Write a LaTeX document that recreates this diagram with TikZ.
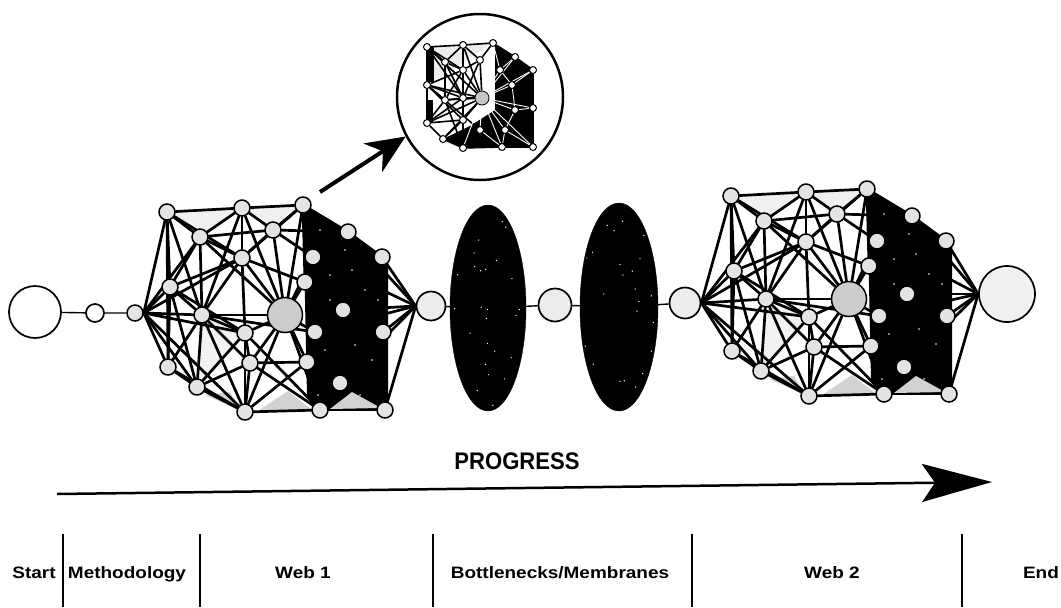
\documentclass[tikz,border=0pt]{standalone}
\usepackage{fontspec}
\setmainfont{Liberation Sans}
\newfontfamily\labfont[FakeStretch=1.15]{Liberation Sans}
\newfontfamily\progfont[FakeStretch=0.92]{Liberation Sans}
\usetikzlibrary{arrows.meta,shapes.geometric,calc}
\pgfdeclarelayer{lzero}
\pgfdeclarelayer{lone}
\pgfdeclarelayer{ltwo}
\pgfsetlayers{lzero,lone,ltwo,main}
\tikzset{
 wn/.style={circle,draw,line width=1.5pt,fill=gray!22,minimum size=16pt,inner sep=0pt},
 bign/.style={circle,draw,line width=1.5pt,fill=gray!40,minimum size=35pt,inner sep=0pt},
 chainc/.style={circle,draw,line width=1.7pt,fill=gray!15,inner sep=0pt},
 webedge/.style={line width=2.7pt,line cap=round},
 patch/.style={fill=gray!35},
 chainline/.style={line width=1.4pt},
 blob/.style={ellipse,fill=black,draw,inner sep=0pt,minimum width=76pt,minimum height=206pt},
 inn/.style={circle,draw,line width=1pt,fill=white,minimum size=7pt,inner sep=0pt},
 inedge/.style={line width=1.6pt},
 inwhite/.style={line width=0.9pt,white},
 lab/.style={font=\labfont\fontsize{16.5}{16.5}\selectfont\bfseries,inner sep=0pt,anchor=base},
 divider/.style={line width=1.3pt},
}
\newcommand\drawweb[4]{%
\begin{scope}[shift={#2}]
 \node[wn] (#1A1) at (167,212) {};
 \node[wn] (#1A2) at (242,208) {};
 \node[wn] (#1A3) at (303,205) {};
 \node[wn] (#1A4) at (348,232) {};
 \node[wn] (#1A5) at (382,257) {};
 \node[wn] (#1B1) at (200,237) {};
 \node[wn] (#1B2) at (273,230) {};
 \node[wn] (#1B3) at (242,258) {};
 \node[wn] (#1C1) at (170,287) {};
 \node[wn] (#1C2) at (202,315) {};
 \node[bign] (#1CC) at (285,315) {};
 \node[wn] (#1C3) at (245,333) {};
 \node[wn] (#1D1) at (168,367) {};
 \node[wn] (#1D2) at (197,387) {};
 \node[wn] (#1D3) at (250,363) {};
 \node[wn] (#1E1) at (245,412) {};
 \node[wn] (#1E2) at (320,410) {};
 \node[wn] (#1E3) at (385,410) {};
 \node[wn] (#1F1) at (313,257) {};
 \node[wn] (#1F2) at (305,282) {};
 \node[wn] (#1F3) at (343,310) {};
 \node[wn] (#1F4) at (315,332) {};
 \node[wn] (#1F5) at (383,332) {};
 \node[wn] (#1F6) at (307,362) {};
 \node[wn] (#1F7) at (340,383) {};
 \begin{pgfonlayer}{lzero}
  \fill[gray!12] (#1A1.center) -- (#1A2.center) -- (#1B1.center) -- cycle;
  \fill[gray!12] (#1A2.center) -- (#1A3.center) -- (#1B2.center) -- cycle;
  \fill[gray!10] (#1C2.center) -- (#1C3.center) -- (#1D2.center) -- cycle;
  \fill[patch] (258,411) -- (288,391) -- (312,410) -- cycle;
  \fill[patch] (205,395) -- (230,392) -- (240,410) -- cycle;
 \end{pgfonlayer}
 \begin{pgfonlayer}{lone}
  \foreach \a/\b in {A1/A2,A2/A3,A3/A4,A4/A5,
   A1/B1,A1/C1,A1/C2,A1/B3,A1/D1,
   A2/B1,A2/B2,A2/B3,A2/C2,A2/CC,
   A3/B2,A3/B3,A3/CC,A3/F1,A3/F2,
   B1/B2,B1/C1,B1/C2,B1/B3,B1/CC,
   B2/B3,B2/A4,B2/CC,B2/F1,
   B3/C1,B3/C2,B3/CC,B3/F2,B3/C3,
   C1/C2,C1/D1,C1/D2,C1/C3,
   C2/CC,C2/C3,C2/D1,C2/D2,C2/D3,C2/E1,C2/F4,
   CC/C3,CC/D3,CC/E1,CC/E2,CC/F2,CC/F4,CC/F6,CC/F1,
   C3/D3,C3/D2,C3/E1,C3/E2,
   D1/D2,D1/E1,D2/E1,D2/D3,
   D3/E1,D3/E2,D3/F6,
   E1/E2,E2/E3,E2/F6,E2/F7,E1/F6,E3/F7,E3/F5}
   \draw[webedge] (#1\a) -- (#1\b);
  \foreach \b in {A1,B1,C1,B3,C2,C3,D1,D2,E1}
   \draw[webedge] (#3.east) -- (#1\b);
  \foreach \b in {A5,A4,F1,F3,F5,F4,F7,E3}
   \draw[webedge] (#4.west) -- (#1\b);
 \end{pgfonlayer}
 \begin{pgfonlayer}{ltwo}
  \fill[black] (#1A3.center) -- (#1A4.center) -- (#1A5.center) -- (388,262) -- (388,410) -- (#1E2.center) -- (307,396) -- cycle;
  \foreach \p in {(320,230),(352,270),(330,300),(365,290),(372,360),(325,350),(355,345),(318,395),(345,250),(378,300),(360,395),(330,275)}
   \fill[white] \p circle (0.8);
  \fill[patch] (330,409) -- (352,392) -- (381,408) -- cycle;
 \end{pgfonlayer}
\end{scope}}
\begin{document}
\begin{tikzpicture}[x=1pt,y=-1pt]
\useasboundingbox (0,0) rectangle (1061,608);
% chain
\node[chainc,minimum size=52pt,fill=white] (start) at (35,312) {};
\node[chainc,minimum size=18pt,fill=white] (s2) at (95,313) {};
\node[wn,minimum size=16pt] (a1) at (135,313) {};
\node[chainc,minimum size=29pt] (m1) at (431,306) {};
\node[blob] (ell1) at (488,308) {};
\node[chainc,minimum size=33pt] (m2) at (555,305) {};
\node[blob,minimum width=78pt,minimum height=208pt] (ell2) at (619,307) {};
\node[chainc,minimum size=31pt] (m3) at (685,303) {};
\node[chainc,minimum size=56pt,fill=gray!12] (endc) at (1007,294) {};
\draw[chainline] (start) -- (s2) -- (a1);
\begin{pgfonlayer}{lone}
\draw[chainline] (m1) -- (ell1) -- (m2) -- (ell2) -- (m3);
\end{pgfonlayer}
\pgfmathsetseed{3}
\begin{scope}
 \clip (ell1.center) ellipse (36 and 101);
 \foreach \i in {1,...,30} {\fill[white] ($(ell1.center)+(rand*36,rand*101)$) circle (0.7);}
\end{scope}
\begin{scope}
 \clip (ell2.center) ellipse (37 and 102);
 \foreach \i in {1,...,30} {\fill[white] ($(ell2.center)+(rand*37,rand*102)$) circle (0.7);}
\end{scope}
% webs
\drawweb{w1}{(0,0)}{a1}{m1}
\drawweb{w2}{(564,-16)}{m3}{endc}
% inset
\node[circle,draw,line width=2.5pt,minimum size=166pt,inner sep=0pt] (inset) at (480,97) {};
\node[inn] (i1) at (427,47) {};
\node[inn] (i2) at (463,45) {};
\node[inn] (i3) at (493,43) {};
\node[inn] (i4) at (515,57) {};
\node[inn] (i5) at (533,70) {};
\node[inn] (i6) at (533,108) {};
\node[inn] (i7) at (533,147) {};
\node[inn] (i8) at (502,147) {};
\node[inn] (i9) at (463,148) {};
\node[inn] (i10) at (443,139) {};
\node[inn] (i11) at (427,123) {};
\node[inn] (i12) at (427,85) {};
\node[inn] (i13) at (445,62) {};
\node[inn] (i14) at (463,70) {};
\node[inn] (i15) at (445,100) {};
\node[inn] (i16) at (463,98) {};
\node[inn] (i17) at (463,120) {};
\node[inn] (i18) at (500,70) {};
\node[inn] (i19) at (512,85) {};
\node[inn] (i20) at (515,110) {};
\node[inn] (i21) at (505,130) {};
\node[inn] (i22) at (480,130) {};
\node[inn] (i23) at (480,60) {};
\node[circle,draw,line width=0.8pt,fill=gray!45,minimum size=14pt,inner sep=0pt] (ic) at (482,98) {};
\begin{pgfonlayer}{lzero}
 \fill[gray!15] (i1.center) -- (i2.center) -- (i3.center) -- (i12.center) -- cycle;
 \fill[black] (i3.center) -- (i5.center) -- (i7.center) -- (i9.center) -- (i10.center) -- (470,126) -- (495,110) -- (495,43) -- cycle;
 \fill[black] (427,47) -- (434,47) -- (434,82) -- (427,82) -- cycle;
 \fill[black] (427,100) -- (433,100) -- (433,122) -- (427,122) -- cycle;
\end{pgfonlayer}
\begin{pgfonlayer}{lone}
 \foreach \a/\b in {i1/i2,i2/i3,i3/i4,i4/i5,i5/i6,i6/i7,i7/i8,i8/i9,i9/i10,i10/i11,i11/i12,i12/i1,
  i1/ic,i2/ic,i12/ic,i11/ic,i13/i16,i14/i15,i1/i16,i12/i14,i13/i2,i15/i9,i16/i9,i17/i12,i17/i2,
  i22/i12,i14/ic,i15/ic,i16/ic,i17/ic,i10/ic,i13/i14,i15/i16,i16/i17,i1/i13,i12/i15,i11/i17,
  i23/ic,i2/i23,i23/i3,i14/i23,i13/i15,i15/i11,i17/i9,i17/i10,i1/i14,i12/i16,i11/i16,i2/i16,i23/i16}
  \draw[inedge] (\a) -- (\b);
\end{pgfonlayer}
\begin{pgfonlayer}{ltwo}
 \foreach \a/\b in {i18/ic,i19/ic,i20/ic,i21/ic,i3/ic,i4/ic,i5/ic,i6/ic,i7/ic,i8/ic,i22/ic,i9/ic,
  i3/i18,i18/i19,i19/i20,i20/i21,i4/i18,i5/i19,i6/i20,i7/i21,i8/i21,i22/i8}
  \draw[inwhite] (\a) -- (\b);
\end{pgfonlayer}
\coordinate (arrS) at (320,192);
\draw[line width=4pt,-{Stealth[length=39pt,width=34pt,inset=12pt]}] (arrS) -- (inset.208);
% progress
\coordinate (pS) at (57,494);
\coordinate (pE) at (992,482);
\draw[line width=2.5pt,-{Stealth[length=70pt,width=38pt,inset=13pt]}] (pS) -- (pE);
\node[font=\progfont\fontsize{24}{24}\selectfont\bfseries,inner sep=0pt,anchor=base] (lprog) at (517,469) {PROGRESS};
% bottom
\foreach \x/\n in {63/d1,200/d2,433/d3,692/d4,962/d5}{
 \coordinate (\n t) at (\x,534);
 \coordinate (\n b) at (\x,607);
 \draw[divider] (\n t) -- (\n b);
}
\node[lab] (lstart) at (34,578) {Start};
\node[lab] (lmeth) at (127,578) {Methodology};
\node[lab] (lweb1) at (303,578) {Web 1};
\node[lab] (lbott) at (560,578) {Bottlenecks/Membranes};
\node[lab] (lweb2) at (832,578) {Web 2};
\node[lab] (lend) at (1041,578) {End};
\end{tikzpicture}
\end{document}
